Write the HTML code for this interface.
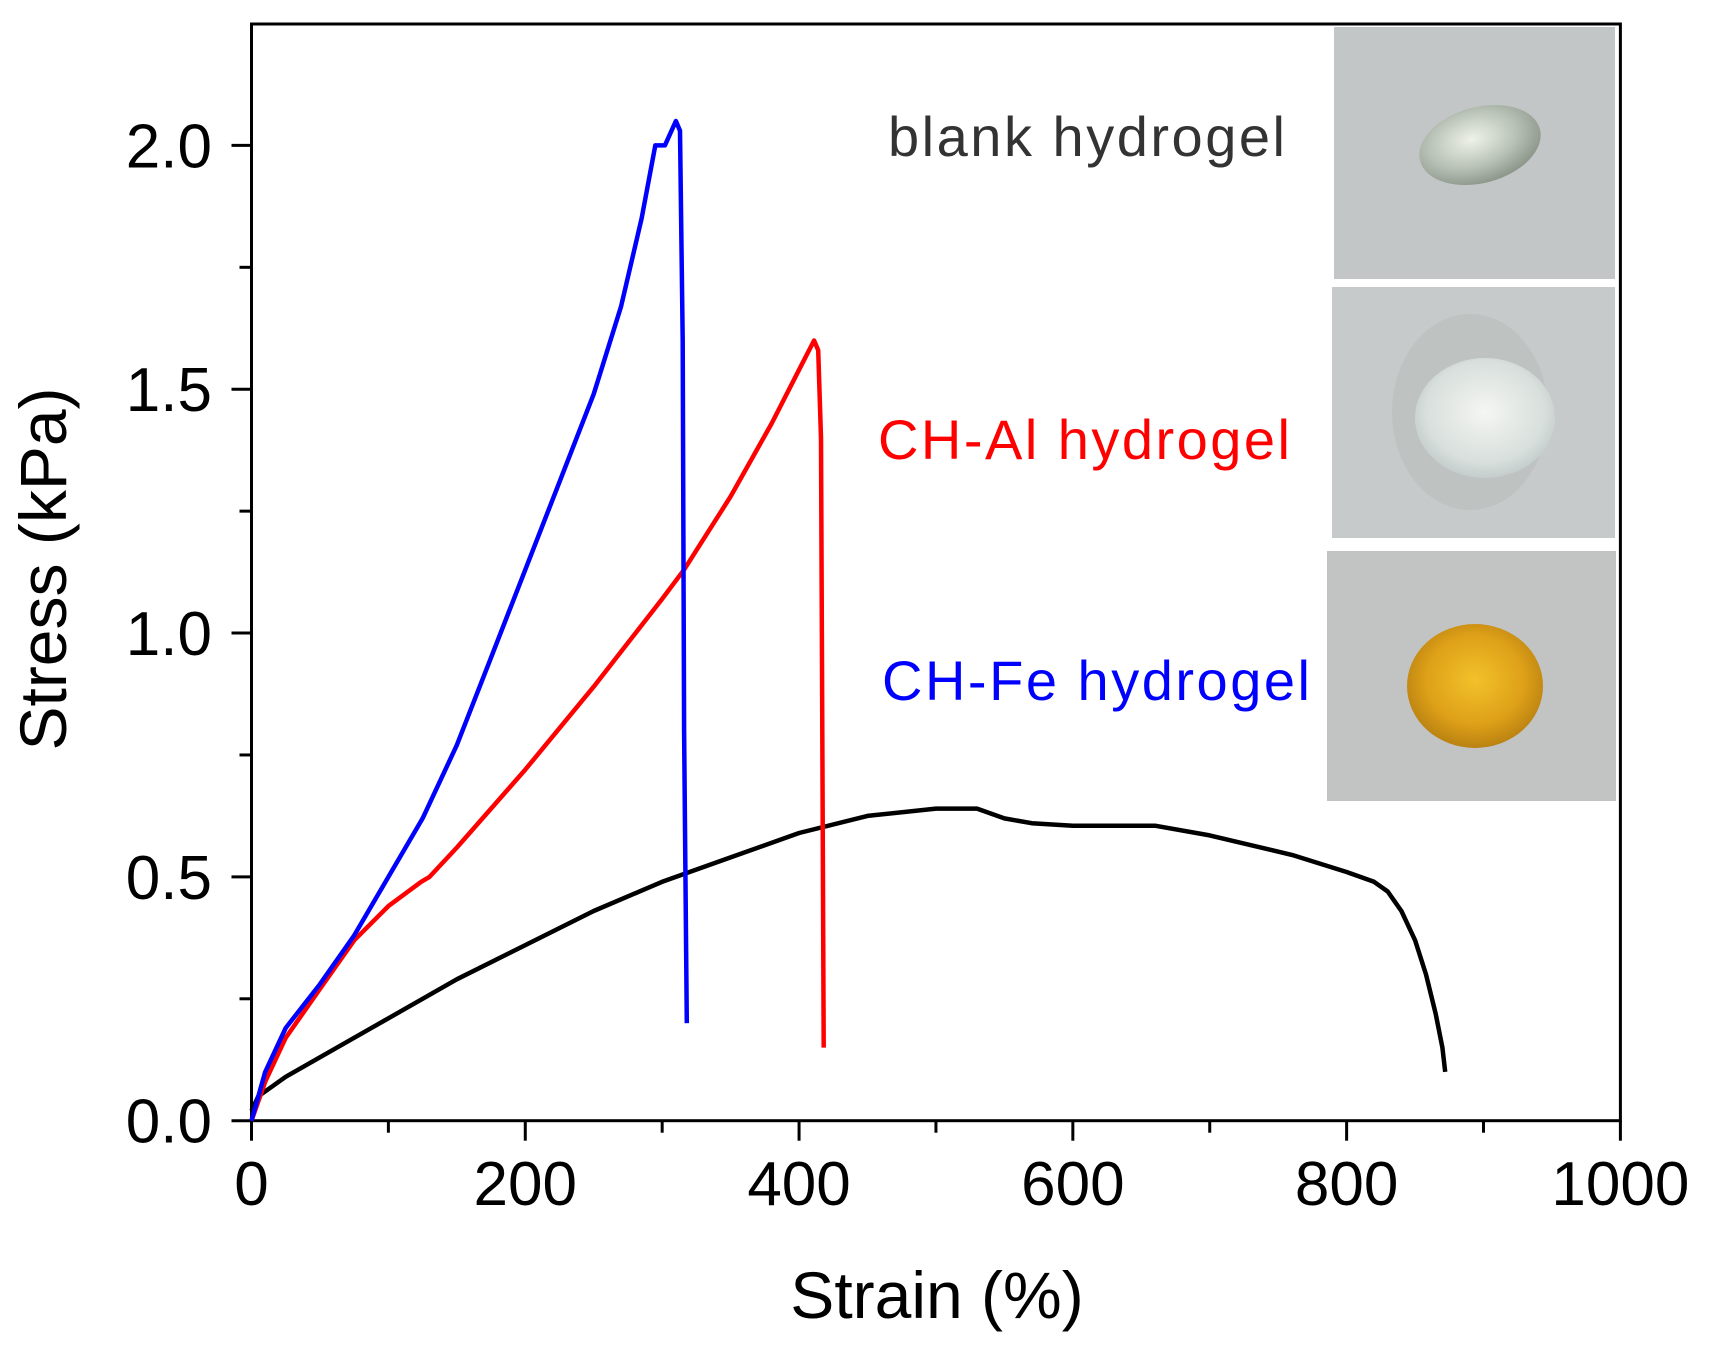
<!DOCTYPE html>
<html><head><meta charset="utf-8"><style>
html,body{margin:0;padding:0;background:#fff;}
svg{display:block;font-family:"Liberation Sans",Arial,sans-serif;}
</style></head><body>
<svg id="chart" width="1710" height="1356" viewBox="0 0 1710 1356" xmlns="http://www.w3.org/2000/svg">
<defs>
 <radialGradient id="g1" cx="45%" cy="40%" r="60%"><stop offset="0" stop-color="#eef2ea"/><stop offset="0.6" stop-color="#b9c2b6"/><stop offset="1" stop-color="#8e978c"/></radialGradient>
 <radialGradient id="g2" cx="50%" cy="45%" r="60%"><stop offset="0" stop-color="#f4f6f2"/><stop offset="0.7" stop-color="#d8dfdc"/><stop offset="1" stop-color="#bcc6c6"/></radialGradient>
 <radialGradient id="g3" cx="50%" cy="45%" r="60%"><stop offset="0" stop-color="#f2c22a"/><stop offset="0.6" stop-color="#dea018"/><stop offset="1" stop-color="#b07a10"/></radialGradient>
</defs>
<g id="photos">
 <rect x="1334" y="27" width="281" height="252" fill="#c3c6c6"/>
 <ellipse cx="1480" cy="145" rx="62" ry="38" fill="url(#g1)" transform="rotate(-15 1480 145)"/>
 <rect x="1332" y="287" width="283" height="251" fill="#c6caca"/>
 <ellipse cx="1470" cy="412" rx="78" ry="98" fill="#b6bbba" opacity="0.5"/>
 <ellipse cx="1485" cy="418" rx="70" ry="60" fill="url(#g2)"/>
 <rect x="1327" y="551" width="289" height="250" fill="#c1c4c3"/>
 <ellipse cx="1475" cy="686" rx="68" ry="62" fill="url(#g3)"/>
</g>
<g id="axes"></g>
<g id="series"></g>
<text x="888" y="156" font-size="56" fill="#333" textLength="397">blank hydrogel</text>
<text x="878" y="459" font-size="56" fill="#f00" textLength="412">CH-Al hydrogel</text>
<text x="882" y="700" font-size="56" fill="#00f" textLength="428">CH-Fe hydrogel</text>
<text x="937" y="1318" font-size="66" text-anchor="middle">Strain (%)</text>
<text x="0" y="0" font-size="66" text-anchor="middle" transform="translate(66 569) rotate(-90)">Stress (kPa)</text>
</svg>
<script>
const xTicks=[0,200,400,600,800,1000];
const yTicks=[0.0,0.5,1.0,1.5,2.0];
const yTickLabels=["0.0","0.5","1.0","1.5","2.0"];
const feStrain=[0,10,25,50,75,100,125,150,175,200,225,250,270,285,295,302,310,313,315,316,318];
const feStress=[0,0.1,0.19,0.28,0.38,0.5,0.62,0.77,0.95,1.13,1.31,1.49,1.67,1.85,2.0,2.0,2.05,2.03,1.6,0.8,0.2];
const alStrain=[0,10,25,50,75,100,124,130,150,200,250,300,316,350,380,400,411,414,416,417,418];
const alStress=[0,0.08,0.17,0.27,0.37,0.44,0.49,0.5,0.56,0.72,0.89,1.07,1.13,1.28,1.43,1.54,1.6,1.58,1.4,0.8,0.15];
const blankStrain=[0,5,25,50,100,150,200,250,300,350,400,450,500,530,550,570,600,660,700,760,800,820,830,840,850,858,865,870,872];
const blankStress=[0.02,0.05,0.09,0.13,0.21,0.29,0.36,0.43,0.49,0.54,0.59,0.625,0.64,0.64,0.62,0.61,0.605,0.605,0.585,0.545,0.51,0.49,0.47,0.43,0.37,0.3,0.22,0.15,0.1];
const NS="http://www.w3.org/2000/svg";
const X0=251.5,X1=1620.4,Y0=1120.7,Y2=145.4;
const sx=v=>X0+(X1-X0)*v/1000;
const sy=v=>Y0-(Y0-Y2)*v/2;
const axes=document.getElementById('axes');
function mk(tag,attrs,parent){const e=document.createElementNS(NS,tag);for(const k in attrs)e.setAttribute(k,attrs[k]);parent.appendChild(e);return e;}
const frame=mk('rect',{x:X0,y:24,width:X1-X0,height:Y0-24,fill:'none',stroke:'#000','stroke-width':3},axes);


for(let v=0;v<=1000;v+=100){
 const major=v%200===0;
 const t=mk('line',{x1:sx(v),x2:sx(v),y1:Y0,y2:Y0+(major?20:12),stroke:'#000','stroke-width':3},axes);
 
 
}
xTicks.forEach(v=>{
 const t=mk('text',{x:sx(v),y:1205,'font-size':62,'text-anchor':'middle'},axes);t.textContent=v;
 
 
});
for(let i=0;i<=8;i++){
 const v=i*0.25,major=i%2===0;
 const t=mk('line',{x1:X0,x2:X0-(major?20:12),y1:sy(v),y2:sy(v),stroke:'#000','stroke-width':3},axes);
 
 
}
yTicks.forEach((v,i)=>{
 const t=mk('text',{x:212,y:sy(v)+22,'font-size':62,'text-anchor':'end'},axes);t.textContent=yTickLabels[i];
 
 
});
const series=document.getElementById('series');
function line(xs,ys,color,name){
 const d=xs.map((x,i)=>(i?'L':'M')+sx(x).toFixed(1)+' '+sy(ys[i]).toFixed(1)).join(' ');
 const p=mk('path',{d:d,fill:'none',stroke:color,'stroke-width':4.5,'stroke-linejoin':'round'},series);
 
 
}
line(blankStrain,blankStress,'#000','blank-hydrogel-line');
line(alStrain,alStress,'#f00','ch-al-hydrogel-line');
line(feStrain,feStress,'#00f','ch-fe-hydrogel-line');
</script>
</body></html>
